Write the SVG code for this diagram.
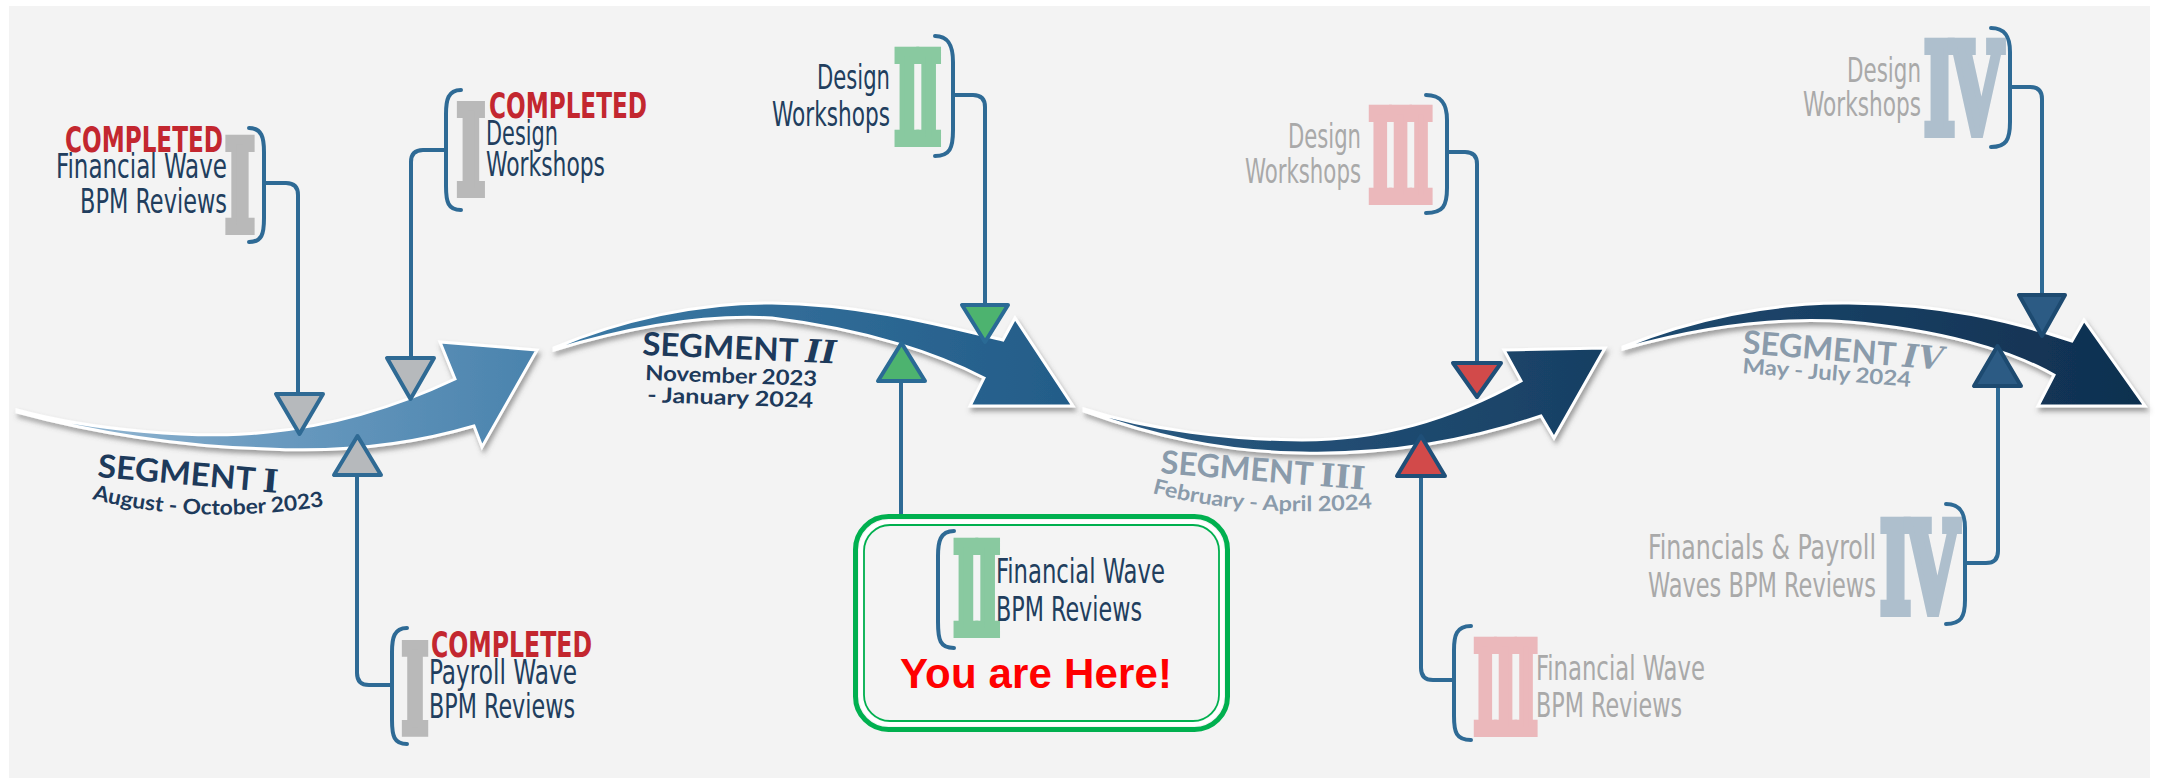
<svg xmlns="http://www.w3.org/2000/svg" width="2158" height="778" viewBox="0 0 2158 778">
<style>
.lbl{font-family:"DejaVu Sans Condensed","Liberation Sans Narrow","Roboto","Liberation Sans",sans-serif;font-size:34px;}
.dark{fill:#213e5e;}
.faded{fill:#a9a9a9;}
.done{font-family:"DejaVu Sans Condensed","Liberation Sans",sans-serif;font-weight:bold;font-size:35px;fill:#c3272f;}
.rom{font-family:"DejaVu Serif","Liberation Serif",serif;font-weight:bold;text-anchor:middle;fill:currentColor;stroke:currentColor;stroke-width:10;stroke-linejoin:miter;font-size:123px;}
.seg{font-family:"Lato","Noto Sans","DejaVu Sans",sans-serif;font-weight:bold;}
.segt{font-size:32px;}
.segd{font-size:21px;}
.ink1{fill:#1d3a5b;}
.ink2{fill:#8a9bab;}
.brk{fill:none;stroke:#2e6a95;stroke-width:4;stroke-linecap:round;}
.con{fill:none;stroke:#2e6a95;stroke-width:4;stroke-linejoin:round;}
.tri{stroke-width:4;stroke-linejoin:round;}
.arrow{stroke:#ffffff;stroke-width:3;stroke-linejoin:miter;filter:url(#shadow);}
</style>
<defs>
<filter id="shadow" x="-10%" y="-30%" width="120%" height="170%">
<feDropShadow dx="2" dy="4" stdDeviation="2.5" flood-color="#555" flood-opacity="0.55"/>
</filter>
<linearGradient id="g1" x1="0" y1="0" x2="1" y2="0">
<stop offset="0" stop-color="#a3c1d8"/><stop offset="0.45" stop-color="#6c9cc1"/><stop offset="1" stop-color="#4a83ad"/>
</linearGradient>
<linearGradient id="g2" x1="0" y1="0" x2="1" y2="0">
<stop offset="0" stop-color="#3c7aa5"/><stop offset="1" stop-color="#235c88"/>
</linearGradient>
<linearGradient id="g3" x1="0" y1="0" x2="1" y2="0">
<stop offset="0" stop-color="#2b5b83"/><stop offset="1" stop-color="#173f63"/>
</linearGradient>
<linearGradient id="g4" x1="0" y1="0" x2="1" y2="0">
<stop offset="0" stop-color="#1f4b71"/><stop offset="1" stop-color="#0f2f4f"/>
</linearGradient>
<path id="p1" d="M92,499 Q200,527 330,505"/>
<path id="p3" d="M1152,493 Q1250,519 1376,508"/>
</defs>

<rect x="0" y="0" width="2158" height="778" fill="#ffffff"/>
<rect x="9" y="6" width="2141" height="772" fill="#f3f3f3"/>

<g id="segment-1">
<path class="arrow" fill="url(#g1)" d="M17,410 C90,430 200,440 268,432 C340,425 400,405 455,379 L440,342 L537,350 L482,447 L474,426 C400,448 330,452 268,449 C180,447 90,432 17,412 Z"/>
<text class="seg segt ink1" x="97" y="477" textLength="181" lengthAdjust="spacingAndGlyphs" transform="rotate(5 97 477)">SEGMENT <tspan font-family="DejaVu Serif, serif">I</tspan></text>
<text class="seg segd ink1"><textPath href="#p1" textLength="234" lengthAdjust="spacingAndGlyphs">August - October 2023</textPath></text>
</g>

<g id="segment-2">
<path class="arrow" fill="url(#g2)" d="M554,348 C620,320 700,302 772,303 C860,304 940,325 1003,340 L1015,318 L1073,406 L970,406 L984,378 C940,355 870,330 772,318 C700,314 620,330 554,350 Z"/>
<text class="seg segt ink1" x="642" y="355" textLength="194" lengthAdjust="spacingAndGlyphs" transform="rotate(2.5 642 355)">SEGMENT <tspan font-family="DejaVu Serif, serif" font-style="italic">II</tspan></text>
<text class="seg segd ink1" x="645" y="380" textLength="172" lengthAdjust="spacingAndGlyphs" transform="rotate(2 645 380)">November 2023</text>
<text class="seg segd ink1" x="647" y="402" textLength="166" lengthAdjust="spacingAndGlyphs" transform="rotate(2 647 402)">- January 2024</text>
</g>

<g id="segment-3">
<path class="arrow" fill="url(#g3)" d="M1084,409 C1150,430 1230,440 1302,440 C1380,440 1450,420 1521,381 L1504,350 L1605,348 L1554,438 L1541,416 C1470,440 1390,455 1302,453 C1220,452 1150,435 1084,411 Z"/>
<text class="seg segt ink2" x="1160" y="473" textLength="205" lengthAdjust="spacingAndGlyphs" transform="rotate(4.7 1160 473)">SEGMENT <tspan font-family="DejaVu Serif, serif">III</tspan></text>
<text class="seg segd ink2"><textPath href="#p3" textLength="222" lengthAdjust="spacingAndGlyphs">February - April 2024</textPath></text>
</g>

<g id="segment-4">
<path class="arrow" fill="url(#g4)" d="M1623,347 C1690,320 1770,302 1849,303 C1940,304 2010,320 2072,341 L2084,320 L2145,406 L2038,406 L2054,375 C2010,350 1940,330 1849,322 C1770,316 1690,330 1623,349 Z"/>
<text class="seg segt ink2" x="1742" y="353" textLength="201" lengthAdjust="spacingAndGlyphs" transform="rotate(4.8 1742 353)">SEGMENT <tspan font-family="DejaVu Serif, serif" font-style="italic">IV</tspan></text>
<text class="seg segd ink2" x="1742" y="373" textLength="169" lengthAdjust="spacingAndGlyphs" transform="rotate(4.7 1742 373)">May - July 2024</text>
</g>

<g id="connectors">
<path class="con" d="M264,183 L286,183 Q298,183 298,195 L298,395"/>
<path class="con" d="M446,150 L423,150 Q411,150 411,162 L411,357"/>
<path class="con" d="M357,477 L357,673 Q357,685 369,685 L392,685"/>
<path class="con" d="M953,95 L973,95 Q985,95 985,107 L985,305"/>
<path class="con" d="M901,382 L901,576 Q901,588 913,588 L938,588"/>
<path class="con" d="M1447,152 L1465,152 Q1477,152 1477,164 L1477,362"/>
<path class="con" d="M1421,477 L1421,668 Q1421,680 1433,680 L1454,680"/>
<path class="con" d="M2010,87 L2030,87 Q2042,87 2042,99 L2042,294"/>
<path class="con" d="M1998,387 L1998,551 Q1998,563 1986,563 L1965,563"/>
<polygon class="tri" fill="#b6b9bc" stroke="#2f6a94" points="276,394 323,394 299.5,434"/>
<polygon class="tri" fill="#b6b9bc" stroke="#2f6a94" points="387,358 434,358 410.5,399"/>
<polygon class="tri" fill="#b6b9bc" stroke="#2f6a94" points="334,475 381,475 357.5,436"/>
<polygon class="tri" fill="#4db36f" stroke="#2a6a95" points="962,305 1008,305 985,342"/>
<polygon class="tri" fill="#4db36f" stroke="#2a6a95" points="878,381 925,381 901.5,343"/>
<polygon class="tri" fill="#d24a4a" stroke="#1f4f78" points="1453,363 1501,363 1477,397"/>
<polygon class="tri" fill="#d24a4a" stroke="#1f4f78" points="1397,476 1445,476 1421,436"/>
<polygon class="tri" fill="#2c5b84" stroke="#1d4a70" points="2019,295 2065,295 2042,336"/>
<polygon class="tri" fill="#2c5b84" stroke="#1d4a70" points="1974,386 2021,386 1997.5,346"/>
</g>

<g id="node-financial-1">
<text class="rom" color="#b9b9b9" transform="translate(240,230) scale(0.52,1)" x="0" y="0">I</text>
<path class="brk" d="M249,128 C262,128 264,138 264,152 L264,218 C264,234 262,242 249,242"/>
<text class="done" x="65" y="152" textLength="158" lengthAdjust="spacingAndGlyphs">COMPLETED</text>
<text class="lbl dark" x="56" y="178" textLength="171" lengthAdjust="spacingAndGlyphs">Financial Wave</text>
<text class="lbl dark" x="80" y="213" textLength="147" lengthAdjust="spacingAndGlyphs">BPM Reviews</text>
</g>

<g id="node-design-1">
<text class="rom" color="#b9b9b9" transform="translate(471,193) scale(0.5,0.98)" x="0" y="0">I</text>
<path class="brk" d="M461,90 C448,90 446,100 446,114 L446,186 C446,202 448,210 461,210"/>
<text class="done" x="489" y="118" textLength="158" lengthAdjust="spacingAndGlyphs">COMPLETED</text>
<text class="lbl dark" x="486" y="145" textLength="72" lengthAdjust="spacingAndGlyphs">Design</text>
<text class="lbl dark" x="486" y="176" textLength="119" lengthAdjust="spacingAndGlyphs">Workshops</text>
</g>

<g id="node-payroll-1">
<text class="rom" color="#b9b9b9" transform="translate(415,732) scale(0.47,0.97)" x="0" y="0">I</text>
<path class="brk" d="M407,628 C394,628 392,638 392,652 L392,720 C392,736 394,744 407,744"/>
<text class="done" x="431" y="657" textLength="161" lengthAdjust="spacingAndGlyphs">COMPLETED</text>
<text class="lbl dark" x="429" y="684" textLength="148" lengthAdjust="spacingAndGlyphs">Payroll Wave</text>
<text class="lbl dark" x="429" y="718" textLength="146" lengthAdjust="spacingAndGlyphs">BPM Reviews</text>
</g>

<g id="node-design-2">
<text class="rom" color="#89c9a0" letter-spacing="-8" transform="translate(916,142) scale(0.44,1)" x="0" y="0">II</text>
<path class="brk" d="M935,36 C950,36 953,48 953,62 L953,130 C953,148 950,156 935,156"/>
<text class="lbl dark" x="817" y="89" textLength="73" lengthAdjust="spacingAndGlyphs">Design</text>
<text class="lbl dark" x="772" y="126" textLength="118" lengthAdjust="spacingAndGlyphs">Workshops</text>
</g>

<g id="node-financial-2">
<rect x="855.5" y="516.5" width="372" height="213" rx="33" fill="#f4f4f4" stroke="#00b04f" stroke-width="5"/>
<rect x="861" y="522" width="361" height="202" rx="28" fill="none" stroke="#ffffff" stroke-width="4"/>
<rect x="864" y="525" width="355" height="196" rx="26" fill="none" stroke="#00b04f" stroke-width="1.8"/>
<text class="rom" color="#89c9a0" letter-spacing="-8" transform="translate(975,633) scale(0.44,1)" x="0" y="0">II</text>
<path class="brk" d="M954,531 C940,531 938,542 938,556 L938,622 C938,640 940,648 954,648"/>
<text class="lbl dark" x="996" y="583" textLength="169" lengthAdjust="spacingAndGlyphs">Financial Wave</text>
<text class="lbl dark" x="996" y="621" textLength="146" lengthAdjust="spacingAndGlyphs">BPM Reviews</text>
<text x="900" y="688" font-family="Liberation Sans, Arial, sans-serif" font-weight="bold" font-size="42" fill="#ff0000" textLength="272">You are Here!</text>
</g>

<g id="node-design-3">
<text class="rom" color="#ebb8bb" letter-spacing="-8" transform="translate(1399,200) scale(0.41,1)" x="0" y="0">III</text>
<path class="brk" d="M1426,95 C1443,95 1447,106 1447,120 L1447,188 C1447,206 1443,213 1426,213"/>
<text class="lbl faded" x="1288" y="148" textLength="73" lengthAdjust="spacingAndGlyphs">Design</text>
<text class="lbl faded" x="1245" y="183" textLength="116" lengthAdjust="spacingAndGlyphs">Workshops</text>
</g>

<g id="node-financial-3">
<text class="rom" color="#ebb8bb" letter-spacing="-8" transform="translate(1504,732) scale(0.41,1)" x="0" y="0">III</text>
<path class="brk" d="M1471,626 C1456,626 1454,636 1454,650 L1454,716 C1454,732 1456,740 1471,740"/>
<text class="lbl faded" x="1536" y="680" textLength="169" lengthAdjust="spacingAndGlyphs">Financial Wave</text>
<text class="lbl faded" x="1536" y="717" textLength="146" lengthAdjust="spacingAndGlyphs">BPM Reviews</text>
</g>

<g id="node-design-4">
<text class="rom" color="#aebfcd" letter-spacing="-8" transform="translate(1961,133) scale(0.54,1)" x="0" y="0">IV</text>
<path class="brk" d="M1991,28 C2006,28 2010,38 2010,52 L2010,122 C2010,140 2006,147 1991,147"/>
<text class="lbl faded" x="1847" y="82" textLength="74" lengthAdjust="spacingAndGlyphs">Design</text>
<text class="lbl faded" x="1803" y="116" textLength="118" lengthAdjust="spacingAndGlyphs">Workshops</text>
</g>

<g id="node-fp-4">
<text class="rom" color="#aebfcd" letter-spacing="-8" transform="translate(1917,612) scale(0.54,1.01)" x="0" y="0">IV</text>
<path class="brk" d="M1946,504 C1961,504 1965,514 1965,528 L1965,600 C1965,617 1961,624 1946,624"/>
<text class="lbl faded" x="1648" y="559" textLength="228" lengthAdjust="spacingAndGlyphs">Financials &amp; Payroll</text>
<text class="lbl faded" x="1648" y="597" textLength="228" lengthAdjust="spacingAndGlyphs">Waves BPM Reviews</text>
</g>
</svg>
